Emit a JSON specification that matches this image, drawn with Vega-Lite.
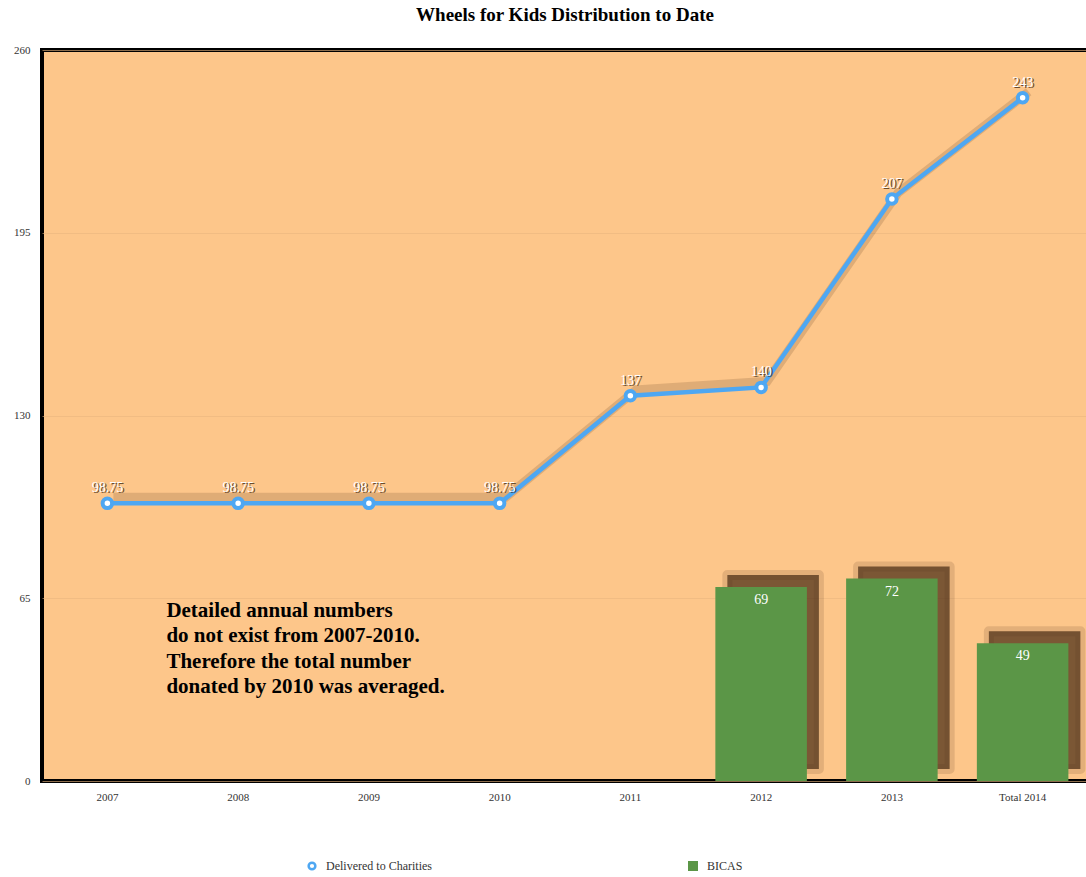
{
  "$schema": "https://vega.github.io/schema/vega-lite/v6.json",
  "autosize": "none",
  "width": 1046,
  "height": 731,
  "padding": {"left": 42, "top": 50, "right": 0, "bottom": 96},
  "background": "white",
  "title": {
    "text": "Wheels for Kids Distribution to Date",
    "font": "Liberation Serif",
    "fontSize": 19,
    "fontWeight": "bold",
    "color": "black",
    "anchor": "middle",
    "offset": 19
  },
  "config": {
    "view": {"fill": "#FDC68A", "stroke": "black", "strokeWidth": 4},
    "axis": {"labelFont": "Liberation Serif", "labelFontSize": 11, "labelColor": "#333333", "title": null, "ticks": false, "domain": false},
    "legend": {"labelFont": "Liberation Serif", "labelFontSize": 12, "labelColor": "#333333", "padding": 0, "title": null, "labelOffset": 8}
  },
  "data": {
    "values": [
      {"year": "2007", "delivered": 98.75, "bicas": null},
      {"year": "2008", "delivered": 98.75, "bicas": null},
      {"year": "2009", "delivered": 98.75, "bicas": null},
      {"year": "2010", "delivered": 98.75, "bicas": null},
      {"year": "2011", "delivered": 137, "bicas": null},
      {"year": "2012", "delivered": 140, "bicas": 69},
      {"year": "2013", "delivered": 207, "bicas": 72},
      {"year": "Total 2014", "delivered": 243, "bicas": 49}
    ]
  },
  "encoding": {
    "x": {
      "field": "year", "type": "nominal", "sort": null,
      "scale": {"domain": ["2007", "2008", "2009", "2010", "2011", "2012", "2013", "Total 2014"], "paddingInner": 0.3, "paddingOuter": 0.15},
      "axis": {"labelAngle": 0, "labelPadding": 10, "grid": false}
    }
  },
  "layer": [
    {
      "transform": [{"filter": "datum.bicas != null"}],
      "mark": {"type": "bar", "fill": "#4F3118", "fillOpacity": 0.75, "stroke": "#4F3118", "strokeOpacity": 0.15, "strokeWidth": 10, "strokeJoin": "round", "xOffset": 12, "yOffset": -12},
      "encoding": {
        "y": {"field": "bicas", "type": "quantitative",
          "scale": {"domain": [0, 260], "nice": false},
          "axis": {"values": [0, 65, 130, 195, 260], "labelPadding": 12, "grid": true, "gridColor": "#E9B57E", "gridWidth": 1, "gridOpacity": 0.6}}
      }
    },
    {
      "transform": [{"filter": "datum.bicas != null"}],
      "mark": {"type": "bar"},
      "encoding": {
        "y": {"field": "bicas", "type": "quantitative"},
        "fill": {"datum": "BICAS", "type": "nominal", "scale": {"range": ["#5B9647"]},
          "legend": {"orient": "none", "legendX": 645, "legendY": 810, "symbolType": "square", "symbolSize": 100, "symbolStrokeWidth": 0}}
      }
    },
    {
      "transform": [{"filter": "datum.bicas != null"}],
      "mark": {"type": "text", "baseline": "top", "dy": 6, "color": "white", "font": "Liberation Serif", "fontSize": 14},
      "encoding": {
        "y": {"field": "bicas", "type": "quantitative"},
        "text": {"field": "bicas", "type": "quantitative"}
      }
    },
    {
      "mark": {"type": "line", "stroke": "#5A3A1E", "strokeOpacity": 0.18, "strokeWidth": 9, "xOffset": 6, "yOffset": -6},
      "encoding": {"y": {"field": "delivered", "type": "quantitative"}}
    },
    {
      "mark": {"type": "line", "stroke": "#4EA7F2", "strokeWidth": 4.5},
      "encoding": {"y": {"field": "delivered", "type": "quantitative"}}
    },
    {
      "mark": {"type": "point", "shape": "circle", "filled": true, "fill": "white", "size": 90, "strokeWidth": 4, "opacity": 1},
      "encoding": {
        "y": {"field": "delivered", "type": "quantitative"},
        "stroke": {"datum": "Delivered to Charities", "type": "nominal", "scale": {"range": ["#4EA7F2"]},
          "legend": {"orient": "none", "legendX": 264, "legendY": 810, "symbolType": "circle", "symbolSize": 45, "symbolStrokeWidth": 2.5, "symbolFillColor": "white",
            "encode": {"symbols": {"update": {"fill": {"value": "white"}, "stroke": {"value": "#4EA7F2"}, "strokeWidth": {"value": 2.5}}}}}}
      }
    },
    {
      "mark": {"type": "text", "baseline": "alphabetic", "dy": -10, "dx": 1.5, "color": "#3A2410", "opacity": 0.75, "font": "Liberation Serif", "fontSize": 14},
      "encoding": {
        "y": {"field": "delivered", "type": "quantitative"},
        "text": {"field": "delivered", "type": "quantitative"}
      }
    },
    {
      "mark": {"type": "text", "baseline": "alphabetic", "dy": -11, "color": "white", "font": "Liberation Serif", "fontSize": 14},
      "encoding": {
        "y": {"field": "delivered", "type": "quantitative"},
        "text": {"field": "delivered", "type": "quantitative"}
      }
    },
    {
      "data": {"values": [{"year": "2007", "y": 64.5, "note": ["Detailed annual numbers", "do not exist from 2007-2010.", "Therefore the total number", "donated by 2010 was averaged."]}]},
      "mark": {"type": "text", "align": "left", "baseline": "top", "dx": 59, "font": "Liberation Serif", "fontSize": 21, "fontWeight": "bold", "color": "black", "lineHeight": 25.5},
      "encoding": {
        "y": {"field": "y", "type": "quantitative"},
        "text": {"field": "note"}
      }
    }
  ]
}
